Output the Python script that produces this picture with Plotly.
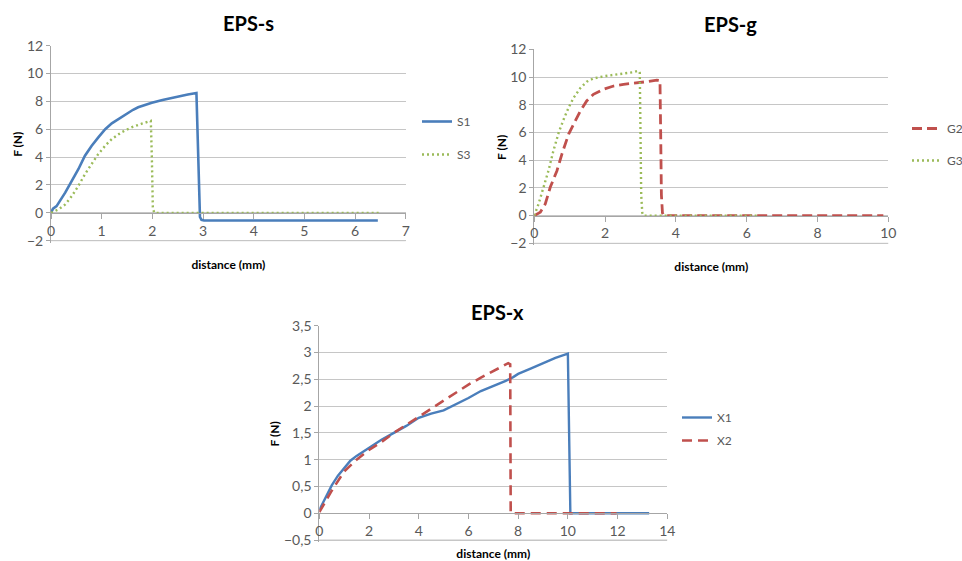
import plotly.graph_objects as go

# ---------------- data ----------------
# EPS-s
s1_x = [0, 0.04, 0.11, 0.2, 0.28, 0.41, 0.54, 0.67, 0.8, 0.93, 1.07, 1.2, 1.33, 1.43, 1.53, 1.62, 1.72, 1.85, 1.99,
        2.2, 2.45, 2.7, 2.87, 2.9, 2.92, 2.94, 2.97, 3.02, 6.45]
s1_y = [0, 0.3, 0.48, 0.95, 1.45, 2.3, 3.13, 4.1, 4.8, 5.4, 6.0, 6.43, 6.75, 6.98, 7.2, 7.4, 7.58, 7.75, 7.9,
        8.1, 8.32, 8.5, 8.6, 5.0, 1.0, -0.3, -0.5, -0.55, -0.55]
s3_x = [0, 0.145, 0.28, 0.41, 0.54, 0.67, 0.8, 0.93, 1.07, 1.2, 1.39, 1.59, 1.79, 1.97, 1.99, 2.01, 2.04, 6.5]
s3_y = [0, 0.24, 0.6, 1.2, 1.93, 2.77, 3.5, 4.2, 4.82, 5.3, 5.78, 6.14, 6.4, 6.6, 4.0, 0.3, 0, 0]

# EPS-g
g2_x = [0, 0.17, 0.31, 0.45, 0.64, 0.78, 0.97, 1.11, 1.3, 1.48, 1.67, 1.95, 2.24, 2.52, 2.9, 3.2, 3.46, 3.55,
        3.57, 3.59, 3.62, 3.66, 9.86]
g2_y = [0, 0.24, 0.84, 2.04, 3.24, 4.44, 5.88, 6.6, 7.55, 8.27, 8.75, 9.11, 9.35, 9.47, 9.57, 9.67, 9.78, 9.75,
        6.0, 1.5, 0.2, 0, 0]
g3_x = [0, 0.12, 0.26, 0.4, 0.54, 0.69, 0.83, 0.97, 1.11, 1.3, 1.48, 1.67, 2.0, 2.33, 2.61, 2.8, 2.94, 2.98,
        3.0, 3.02, 3.05, 3.09, 6.35]
g3_y = [0, 0.84, 2.04, 3.24, 4.68, 6.0, 6.95, 7.8, 8.5, 9.2, 9.66, 9.9, 10.07, 10.2, 10.26, 10.35, 10.45, 10.3,
        6.0, 1.5, 0.2, 0, 0]

# EPS-x
x1_x = [0, 0.25, 0.5, 0.75, 1.0, 1.25, 1.5, 2.0, 2.5, 3.0, 3.5, 4.0, 4.5, 5.0, 5.5, 6.0, 6.5, 7.0, 7.5, 7.8, 8.0,
        8.5, 9.0, 9.5, 10.0, 10.05, 10.1, 13.27]
x1_y = [0.06, 0.3, 0.52, 0.7, 0.85, 0.98, 1.07, 1.22, 1.37, 1.5, 1.63, 1.78, 1.86, 1.92, 2.03, 2.15, 2.28, 2.37,
        2.47, 2.54, 2.6, 2.7, 2.8, 2.9, 2.98, 1.5, 0.0, 0.0]
x2_x = [0, 0.5, 1.0, 1.5, 2.0, 2.5, 3.0, 3.5, 4.0, 4.5, 5.0, 5.5, 6.0, 6.5, 7.0, 7.6, 7.68, 7.7, 11.96]
x2_y = [0.02, 0.42, 0.78, 1.0, 1.18, 1.33, 1.5, 1.65, 1.8, 1.95, 2.1, 2.25, 2.4, 2.53, 2.65, 2.8, 2.78, 0.0, 0.0]

chart_titles = ["EPS-s", "EPS-g", "EPS-x"]
x_title = "distance (mm)"
y_title = "F (N)"

# ---------------- styling ----------------
W, H = 962, 561
FONT = "Lato"
BLUE = "#4a7ebb"
RED = "#c0504d"
GREEN = "#9bbb59"
GRID = "#c6c6c6"
AXIS = "#a6a6a6"
TICKTXT = "#595959"
PAD = 2.0  # px of room kept under the lowest gridline so it is not clipped

# plot areas in pixels: (left, right, top, bottom), with axis ranges
panels = [
    dict(px=(51.0, 405.7, 45.7, 240.7), xr=(0, 7), yr=(-2, 12), dy=2, dx=1),
    dict(px=(534.3, 888.3, 49.3, 243.3), xr=(0, 10), yr=(-2, 12), dy=2, dx=2),
    dict(px=(319.3, 667.3, 325.7, 540.0), xr=(0, 14), yr=(-0.5, 3.5), dy=0.5, dx=2),
]

fig = go.Figure()

series = [
    (1, "S1", s1_x, s1_y, BLUE, "solid", 2.6),
    (1, "S3", s3_x, s3_y, GREEN, "2px,3px", 2.4),
    (2, "G2", g2_x, g2_y, RED, "10px,5px", 2.8),
    (2, "G3", g3_x, g3_y, GREEN, "2px,3px", 2.4),
    (3, "X1", x1_x, x1_y, BLUE, "solid", 2.4),
    (3, "X2", x2_x, x2_y, RED, "10px,6px", 2.6),
]

for k, name, xs, ys, col, dash, w in series:
    suf = "" if k == 1 else str(k)
    fig.add_trace(go.Scatter(
        x=xs, y=ys, name=name, mode="lines",
        line=dict(color=col, dash=dash, width=w),
        xaxis="x" + suf, yaxis="y" + suf,
        legend="legend" + suf, legendgroup=name,
    ))

layout = dict(
    width=W, height=H, margin=dict(l=0, r=0, t=0, b=0, autoexpand=False),
    paper_bgcolor="white", plot_bgcolor="white",
    font=dict(family=FONT, color=TICKTXT, size=14),
    separators=", ",
    showlegend=True,
)

shapes = []
for i, p in enumerate(panels):
    suf = "" if i == 0 else str(i + 1)
    l, r, t, b = p["px"]
    y0, y1 = p["yr"]
    upp = (y1 - y0) / (b - t)          # data units per pixel
    ylo = y0 - PAD * upp               # range reaches a little below the lowest tick
    xd = [l / W, r / W]
    yd = [1 - (b + PAD) / H, 1 - t / H]
    zero_pos = yd[0] + (0 - ylo) / (y1 - ylo) * (yd[1] - yd[0])
    # horizontal axis sits on the y = 0 line
    layout["xaxis" + suf] = dict(
        domain=xd, range=list(p["xr"]), anchor="free", position=zero_pos,
        dtick=p["dx"], tick0=0, showgrid=False, zeroline=False, automargin=False,
        showline=True, linecolor=AXIS, linewidth=1,
        ticks="outside", ticklen=5, tickcolor=AXIS,
        tickfont=dict(size=14, color=TICKTXT, family=FONT),
        title=dict(text=x_title, standoff=22,
                   font=dict(size=12, color="#000000", family=FONT, weight="bold")),
    )
    layout["yaxis" + suf] = dict(
        domain=yd, range=[ylo, y1], anchor="x" + suf, automargin=False,
        dtick=p["dy"], tick0=0, showgrid=True, gridcolor=GRID, gridwidth=1,
        zeroline=False, showline=True, linecolor=AXIS, linewidth=1,
        ticks="outside", ticklen=4, tickcolor=AXIS,
        tickfont=dict(size=14, color=TICKTXT, family=FONT),
        title=dict(text=y_title, standoff=1,
                   font=dict(size=12, color="#000000", family=FONT, weight="bold")),
    )
    # gridline at the lowest tick value
    shapes.append(dict(
        type="line", xref="x" + suf + " domain", yref="y" + suf,
        x0=0, x1=1, y0=y0, y1=y0, layer="below",
        line=dict(color=GRID, width=1),
    ))
layout["shapes"] = shapes

legend_pos = [(417, 107, 14), (907, 114, 13), (677, 403, 4)]
for i, (lx, ly, gap) in enumerate(legend_pos):
    suf = "" if i == 0 else str(i + 1)
    layout["legend" + suf] = dict(
        x=lx / W, y=1 - ly / H, xanchor="left", yanchor="top",
        bgcolor="rgba(0,0,0,0)", borderwidth=0, tracegroupgap=gap,
        font=dict(size=12, color=TICKTXT, family=FONT),
    )

title_pos = [(248, 23), (730, 24), (497, 312)]
annotations = []
for txt, (tx, ty) in zip(chart_titles, title_pos):
    annotations.append(dict(
        text=txt, x=tx / W, y=1 - ty / H, xref="paper", yref="paper",
        xanchor="center", yanchor="middle", showarrow=False,
        font=dict(size=20, color="#000000", family=FONT, weight="bold"),
    ))
layout["annotations"] = annotations

fig.update_layout(**layout)
fig.write_html("out.html")
